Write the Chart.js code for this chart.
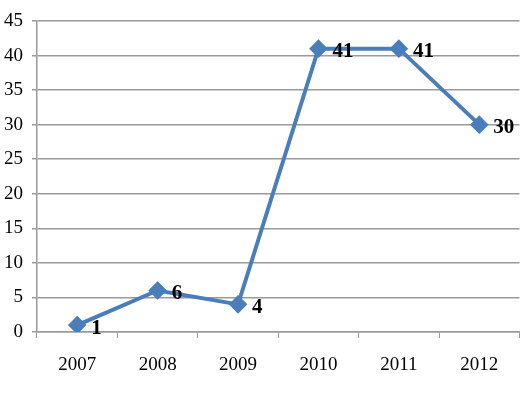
<!DOCTYPE html>
<html>
<head>
<meta charset="utf-8">
<script src="https://cdn.jsdelivr.net/npm/chart.js@4"></script>
<style>
  html, body { margin: 0; padding: 0; background: #fff; }
  #wrap { width: 530px; height: 393px; }
</style>
</head>
<body>
<div id="wrap"><canvas id="lineChart" width="530" height="393"></canvas></div>
<script>
const years = ['2007', '2008', '2009', '2010', '2011', '2012'];
const counts = [1, 6, 4, 41, 41, 30];
const yTicks = [0, 5, 10, 15, 20, 25, 30, 35, 40, 45];

// draws the bold value next to every point
const valueLabels = {
    id: 'valueLabels',
    afterDatasetsDraw(chart) {
        const ctx = chart.ctx;
        const meta = chart.getDatasetMeta(0);
        ctx.save();
        ctx.font = 'bold 21px "Liberation Serif"';
        ctx.fillStyle = '#000';
        ctx.textAlign = 'left';
        ctx.textBaseline = 'middle';
        meta.data.forEach((pt, i) => {
            ctx.fillText(String(counts[i]), pt.x + 14, pt.y + 3);
        });
        ctx.restore();
    }
};

const ctx = document.getElementById('lineChart').getContext('2d');
new Chart(ctx, {
    type: 'line',
    data: {
        labels: years,
        datasets: [{
            data: counts,
            borderColor: '#4a7ebb',
            backgroundColor: '#4a7ebb',
            borderWidth: 4,
            pointStyle: 'rectRot',
            pointRadius: 6.5,
            pointHoverRadius: 6.5,
            tension: 0
        }]
    },
    options: {
        responsive: false,
        animation: false,
        events: [],
        layout: { padding: { left: 0, right: 9, top: 21, bottom: 0 } },
        plugins: {
            legend: { display: false },
            tooltip: { enabled: false }
        },
        scales: {
            x: {
                offset: true,
                grid: {
                    offset: true,
                    drawOnChartArea: false,
                    drawTicks: true,
                    tickLength: 6,
                    color: '#9a9a9a'
                },
                border: { color: '#9a9a9a', width: 1.5 },
                ticks: {
                    color: '#000',
                    font: { family: '"Liberation Serif"', size: 19 },
                    padding: 16,
                    maxRotation: 0
                },
                afterFit: s => { s.height = 61; }
            },
            y: {
                min: 0,
                max: 45,
                afterBuildTicks: s => { s.ticks = yTicks.map(v => ({ value: v })); },
                grid: {
                    color: '#9a9a9a',
                    lineWidth: 1.5,
                    drawTicks: true,
                    tickLength: 5
                },
                border: { color: '#9a9a9a', width: 1.5 },
                ticks: {
                    color: '#000',
                    font: { family: '"Liberation Serif"', size: 19 },
                    padding: 9
                },
                afterFit: s => { s.width = 37; }
            }
        }
    },
    plugins: [valueLabels]
});
</script>
</body>
</html>
